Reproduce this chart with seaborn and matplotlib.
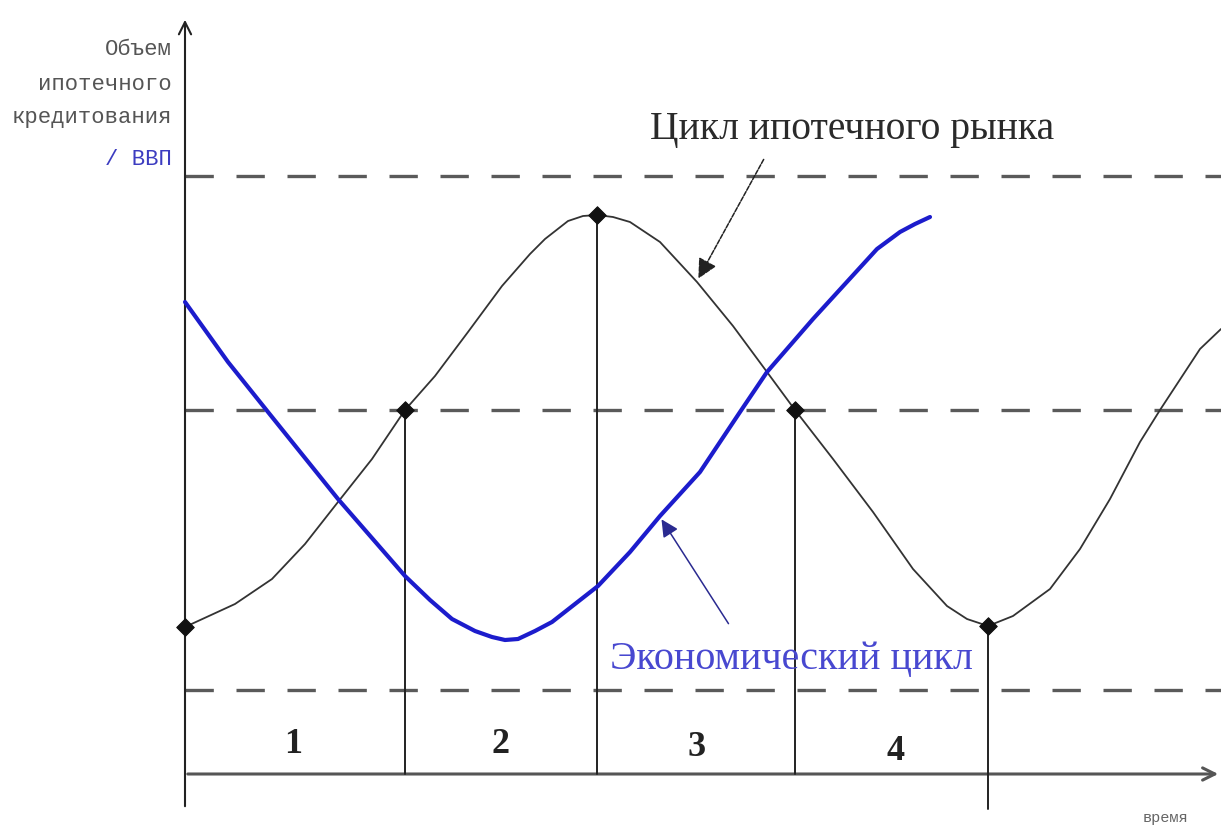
import matplotlib
matplotlib.use("Agg")
import matplotlib.pyplot as plt
import numpy as np
import pandas as pd
import seaborn as sns

# mortgage market cycle (black curve): time, level
mortgage_t = [0.00, 0.50, 0.87, 1.20, 1.53, 1.87, 2.20, 2.50, 2.83, 3.17, 3.45, 3.60,
              3.83, 3.98, 4.12, 4.28, 4.45, 4.75, 5.12, 5.48, 5.82, 6.10, 6.48, 6.88,
              7.28, 7.62, 7.82, 8.03, 8.28, 8.65, 8.95, 9.25, 9.55, 9.75, 10.15, 10.36]
mortgage_v = [1.47, 1.70, 1.95, 2.30, 2.72, 3.15, 3.64, 3.98, 4.42, 4.88, 5.20, 5.35,
              5.53, 5.58, 5.59, 5.57, 5.52, 5.32, 4.92, 4.48, 4.02, 3.64, 3.15, 2.62,
              2.05, 1.68, 1.55, 1.48, 1.58, 1.85, 2.25, 2.75, 3.32, 3.64, 4.25, 4.45]

# economic cycle (blue curve)
econ_t = [0.00, 0.43, 0.83, 1.53, 2.20, 2.45, 2.67, 2.90, 3.07, 3.20, 3.33, 3.50,
          3.67, 3.90, 4.13, 4.45, 4.75, 5.15, 5.55, 5.82, 6.28, 6.60, 6.92, 7.15,
          7.30, 7.45]
econ_v = [4.72, 4.12, 3.62, 2.75, 1.98, 1.74, 1.55, 1.43, 1.37, 1.34, 1.35, 1.43,
          1.52, 1.70, 1.88, 2.22, 2.58, 3.02, 3.62, 4.02, 4.55, 4.90, 5.25, 5.42,
          5.50, 5.57]

# turning points of the mortgage cycle
phase_t = [0.00, 2.20, 4.12, 6.10, 8.03]
phase_v = [1.47, 3.64, 5.59, 3.64, 1.48]

# horizontal reference levels
levels = [5.98, 3.64, 0.84]

phase_labels = ["1", "2", "3", "4"]
phase_label_t = [1.08, 3.15, 5.12, 7.10]
phase_label_v = [0.30, 0.30, 0.27, 0.23]

sns.set_theme(style="white")
plt.rcParams["font.family"] = ["Liberation Serif", "DejaVu Serif"]

fig = plt.figure(figsize=(12.21, 8.29), dpi=100)
ax = fig.add_axes([0, 0, 1, 1])
ax.set_xlim(-1.85, 10.36)
ax.set_ylim(-0.54, 7.75)
ax.axis("off")

# dashed levels
for lv in levels:
    ax.plot([0, 10.36], [lv, lv], color="#5a5a5a", lw=2.4,
            linestyle=(0, (8.5, 6.8)), zorder=1)

# axes with arrows
ax.annotate("", xy=(0, 7.57), xytext=(0, -0.35),
            arrowprops=dict(arrowstyle="->", color="#222222", lw=1.5,
                            mutation_scale=22), zorder=2)
ax.annotate("", xy=(10.36, 0), xytext=(0, 0),
            arrowprops=dict(arrowstyle="->", color="#555555", lw=2.2,
                            mutation_scale=22), zorder=2)

# vertical phase separators
for t, v in zip(phase_t[1:4], phase_v[1:4]):
    ax.plot([t, t], [0, v], color="#222222", lw=1.4, zorder=2)
ax.plot([phase_t[4], phase_t[4]], [-0.35, phase_v[4]], color="#222222", lw=1.4, zorder=2)

mortgage = pd.DataFrame({"t": mortgage_t, "v": mortgage_v})
econ = pd.DataFrame({"t": econ_t, "v": econ_v})
sns.lineplot(data=mortgage, x="t", y="v", ax=ax, color="#333333", lw=1.3,
             sort=False, zorder=3)
sns.lineplot(data=econ, x="t", y="v", ax=ax, color="#1c1ccc", lw=3.0,
             sort=False, zorder=3)
sns.scatterplot(x=phase_t, y=phase_v, ax=ax, marker="D", s=80, color="#111111",
                edgecolor="#111111", zorder=4)

# annotations
ax.annotate("", xy=(5.12, 4.93), xytext=(5.80, 6.17),
            arrowprops=dict(arrowstyle="-|>", color="#222222", lw=1.1,
                            mutation_scale=30, linestyle=(0, (3, 1))), zorder=5)
ax.text(4.65, 6.45, "Цикл ипотечного рынка", fontsize=28.5, color="#2a2a2a",
        ha="left", va="center")

ax.annotate("", xy=(4.75, 2.57), xytext=(5.45, 1.48),
            arrowprops=dict(arrowstyle="-|>", color="#2a2a90", lw=1.1,
                            mutation_scale=26), zorder=5)
ax.text(4.25, 1.15, "Экономический цикл", fontsize=28.8, color="#4848d0",
        ha="left", va="center")

for lab, t, v in zip(phase_labels, phase_label_t, phase_label_v):
    ax.text(t, v, lab, fontsize=26, fontweight="bold", color="#222222",
            ha="center", va="center")

# y-axis caption
mono = ["Liberation Mono", "DejaVu Sans Mono"]
ycap = ["Объем", "ипотечного", "кредитования"]
ycap_v = [7.25, 6.90, 6.57]
for s, v in zip(ycap, ycap_v):
    ax.text(-0.13, v, s, fontsize=16, family=mono, color="#555555",
            ha="right", va="center")
ax.text(-0.13, 6.15, "/ ВВП", fontsize=16, family=mono, color="#3c3cc0",
        ha="right", va="center")
ax.text(9.80, -0.43, "время", fontsize=11, family=mono, color="#666666",
        ha="center", va="center")

fig.savefig("out.png", dpi=100)
